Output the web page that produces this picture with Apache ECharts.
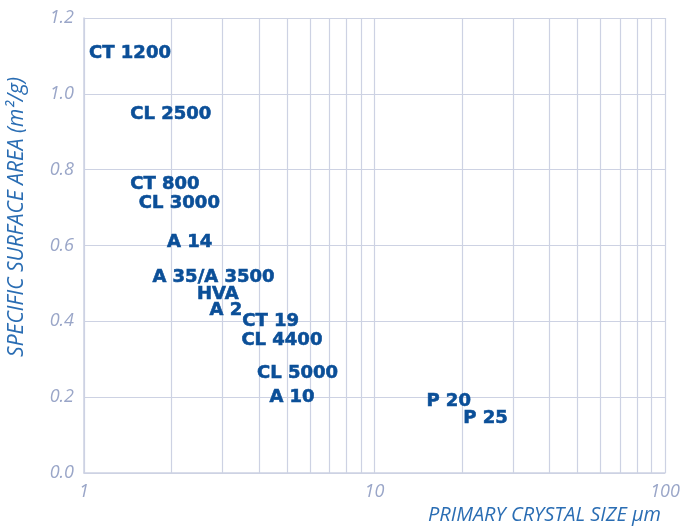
<!DOCTYPE html>
<html>
<head>
<meta charset="utf-8">
<script src="https://cdn.jsdelivr.net/npm/echarts@6/dist/echarts.min.js"></script>
<style>
  html, body { margin: 0; padding: 0; background: #fff; }
  #chart { width: 683px; height: 529px; }
</style>
</head>
<body>
<div id="chart"></div>
<script>
  // grades: primary crystal size (um) vs specific surface area (m2/g)
  const grades = ['CT 1200', 'CL 2500', 'CT 800', 'CL 3000', 'A 14', 'A 35/A 3500', 'HVA', 'A 2',
    'CT 19', 'CL 4400', 'CL 5000', 'A 10', 'P 20', 'P 25'];
  const crystalSize = [1.44, 1.99, 1.90, 2.13, 2.31, 2.79, 2.89, 3.08, 4.39, 4.80, 5.43, 5.20, 18.0, 24.1];
  const surfaceArea = [1.108, 0.946, 0.761, 0.711, 0.608, 0.516, 0.471, 0.430, 0.399, 0.351, 0.263, 0.200, 0.190, 0.144];

  // minor log grid lines
  const minorX = [2, 3, 4, 5, 6, 7, 8, 9, 20, 30, 40, 50, 60, 70, 80, 90];

  const gridColor = '#cdd2e3';
  const tickColor = '#9aa6c8';
  const nameColor = '#2a6db3';
  const labelColor = '#0b4f98';

  const chart = echarts.init(document.getElementById('chart'));

  const points = grades.map((g, i) => [crystalSize[i], surfaceArea[i], g]);

  const option = {
    backgroundColor: '#ffffff',
    animation: false,
    grid: { left: 84, right: 18, top: 18, bottom: 56 },
    xAxis: {
      type: 'log',
      logBase: 10,
      min: 1,
      max: 100,
      axisLine: { lineStyle: { color: gridColor, width: 1.5 } },
      axisTick: { show: false },
      axisLabel: {
        color: tickColor,
        fontFamily: 'Open Sans',
        fontStyle: 'italic',
        fontSize: 18,
        margin: 10
      },
      splitLine: { show: true, lineStyle: { color: gridColor, width: 1.2 } }
    },
    yAxis: {
      type: 'value',
      min: 0,
      max: 1.2,
      interval: 0.2,
      axisLine: { show: true, lineStyle: { color: gridColor, width: 1.5 } },
      axisTick: { show: false },
      axisLabel: {
        color: tickColor,
        fontFamily: 'Open Sans',
        fontStyle: 'italic',
        fontSize: 18,
        margin: 10,
        formatter: (v) => v.toFixed(1)
      },
      splitLine: { lineStyle: { color: gridColor, width: 1.2 } }
    },
    graphic: [
      {
        type: 'text',
        left: 428,
        top: 505,
        style: {
          text: 'PRIMARY CRYSTAL SIZE µm',
          fill: nameColor,
          font: 'italic 20px "Open Sans"'
        }
      },
      {
        type: 'text',
        x: 17,
        y: 217,
        rotation: Math.PI / 2,
        style: {
          text: 'SPECIFIC SURFACE AREA (m²/g)',
          fill: nameColor,
          font: 'italic 21px "Open Sans"',
          align: 'center',
          verticalAlign: 'middle'
        }
      }
    ],
    series: [
      {
        type: 'scatter',
        data: points,
        symbolSize: 2,
        itemStyle: { color: 'rgba(0,0,0,0)', opacity: 1 },
        label: {
          show: true,
          position: 'inside',
          formatter: (p) => p.data[2],
          color: labelColor,
          opacity: 1,
          textBorderColor: labelColor,
          textBorderWidth: 0.6,
          fontFamily: 'DejaVu Sans',
          fontWeight: 'bold',
          fontSize: 18
        },
        labelLayout: { hideOverlap: false },
        markLine: {
          silent: true,
          symbol: 'none',
          label: { show: false },
          lineStyle: { color: gridColor, width: 1.2, type: 'solid', opacity: 1 },
          data: minorX.map((v) => ({ xAxis: v }))
        },
        z: 5
      }
    ]
  };

  chart.setOption(option);
</script>
</body>
</html>
